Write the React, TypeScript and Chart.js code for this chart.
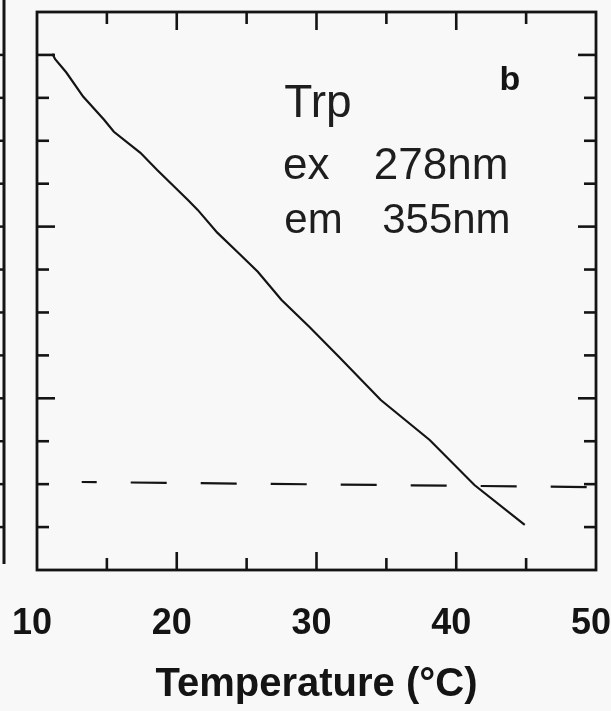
import React, { useEffect, useRef } from "react";
import { Chart, registerables } from "chart.js";

Chart.register(...registerables);

// ---- data ----
const TEMPERATURE = [11.1, 11.3, 12.1, 13.3, 14.8, 15.5, 17.4, 18.6, 20.8, 21.5, 22.9, 24.4, 25.8, 27.5, 29.5, 31.6, 34.6, 38.1, 41.3, 44.9];
const SIGNAL = [12.03, 11.9, 11.59, 11.03, 10.49, 10.21, 9.72, 9.32, 8.62, 8.39, 7.86, 7.39, 6.95, 6.29, 5.66, 4.97, 3.96, 3.03, 1.98, 1.05];
const CUTOFF_T = [13.2, 50];
const CUTOFF_S = [2.05, 1.93];
const X_TICK_LABELS = [10, 20, 30, 40, 50];
const X_TITLE = "Temperature (°C)";
const NOTE_LINES = ["Trp", "ex", "278nm", "em", "355nm"];
const PANEL_LABEL = "b";

const INK = "#141414";
const HAND = "#1e1e1e";

const framePlugin = {
  id: "frameTicks",
  afterDatasetsDraw(chart: any) {
    const { ctx, chartArea: a, scales } = chart;
    const x = scales.x;
    const y = scales.y;
    const seg = (x1: number, y1: number, x2: number, y2: number) => {
      ctx.beginPath();
      ctx.moveTo(x1, y1);
      ctx.lineTo(x2, y2);
      ctx.stroke();
    };
    ctx.save();
    ctx.strokeStyle = INK;
    ctx.lineWidth = 2.8;
    ctx.lineCap = "square";
    ctx.strokeRect(a.left, a.top, a.right - a.left, a.bottom - a.top);
    ctx.lineCap = "butt";
    ctx.lineWidth = 2.6;
    // x inner ticks (major every 10, minor every 5)
    for (let v = x.min + 5; v < x.max; v += 5) {
      const px = x.getPixelForValue(v);
      const len = v % 10 === 0 ? 18 : 12;
      seg(px, a.bottom, px, a.bottom - len);
      seg(px, a.top, px, a.top + len);
    }
    // y inner ticks (major every 4)
    for (let v = y.min + 1; v < y.max; v += 1) {
      const py = y.getPixelForValue(v);
      const len = v % 4 === 0 ? 18 : 12;
      seg(a.left, py, a.left + len, py);
      seg(a.right, py, a.right - len, py);
    }
    // neighbouring panel's edge
    const ex = a.left - 33;
    ctx.lineWidth = 3;
    seg(ex, 0, ex, a.bottom - 6);
    ctx.lineWidth = 2.5;
    for (let v = y.min + 1; v < y.max; v += 1) {
      const py = y.getPixelForValue(v);
      seg(ex, py, ex - 5, py);
    }

    // annotations (placed in data coordinates)
    const put = (text: string, tx: number, ty: number, font: string, color: string) => {
      ctx.font = font;
      ctx.fillStyle = color;
      ctx.textAlign = "left";
      ctx.textBaseline = "alphabetic";
      ctx.fillText(text, x.getPixelForValue(tx), y.getPixelForValue(ty));
    };
    put(NOTE_LINES[0], 27.7, 10.55, "46px 'Liberation Sans'", HAND);
    put(NOTE_LINES[1], 27.6, 9.1, "44px 'Liberation Sans'", HAND);
    put(NOTE_LINES[2], 34.1, 9.1, "44px 'Liberation Sans'", HAND);
    put(NOTE_LINES[3], 27.7, 7.85, "42px 'Liberation Sans'", HAND);
    put(NOTE_LINES[4], 34.7, 7.85, "42px 'Liberation Sans'", HAND);
    put(PANEL_LABEL, 43.1, 11.18, "bold 34px 'Liberation Sans'", INK);
    ctx.restore();
  },
};

export default function App() {
  const ref = useRef<HTMLCanvasElement | null>(null);
  useEffect(() => {
    if (!ref.current) return;
    const chart = new Chart(ref.current, {
      type: "scatter",
      data: {
        datasets: [
          {
            data: TEMPERATURE.map((t, i) => ({ x: t, y: SIGNAL[i] })),
            showLine: true,
            borderColor: INK,
            borderWidth: 2.2,
            pointRadius: 0,
            tension: 0,
          },
          {
            data: CUTOFF_T.map((t, i) => ({ x: t, y: CUTOFF_S[i] })),
            showLine: true,
            borderColor: INK,
            borderWidth: 2.2,
            borderDash: [36, 34],
            borderDashOffset: 21,
            pointRadius: 0,
          },
        ],
      },
      options: {
        responsive: false,
        animation: false,
        devicePixelRatio: 1,
        layout: { padding: { left: 37, right: 15, top: 12, bottom: 0 } },
        plugins: { legend: { display: false }, tooltip: { enabled: false } },
        scales: {
          x: {
            type: "linear",
            min: 10,
            max: 50,
            afterBuildTicks: (s: any) => {
              s.ticks = X_TICK_LABELS.map((v) => ({ value: v }));
            },
            ticks: {
              color: INK,
              font: { family: "'Liberation Sans'", size: 36, weight: "bold" },
              padding: 32,
              labelOffset: -5,
              maxRotation: 0,
              autoSkip: false,
            },
            grid: { display: false, drawTicks: false },
            border: { display: false },
            title: {
              display: true,
              text: X_TITLE,
              color: INK,
              font: { family: "'Liberation Sans'", size: 40, weight: "bold" },
              padding: { top: 0, bottom: 2 },
            },
            afterFit: (s: any) => {
              s.height = 141;
              s.paddingLeft = 0;
              s.paddingRight = 0;
            },
          },
          y: {
            type: "linear",
            min: 0,
            max: 13,
            display: false,
          },
        },
      },
      plugins: [framePlugin],
    });
    return () => chart.destroy();
  }, []);
  return (
    <div style={{ position: "fixed", left: 0, top: 0, width: 611, height: 711, background: "#f8f8f8" }}>
      <canvas ref={ref} width={611} height={711} style={{ display: "block" }} />
    </div>
  );
}
